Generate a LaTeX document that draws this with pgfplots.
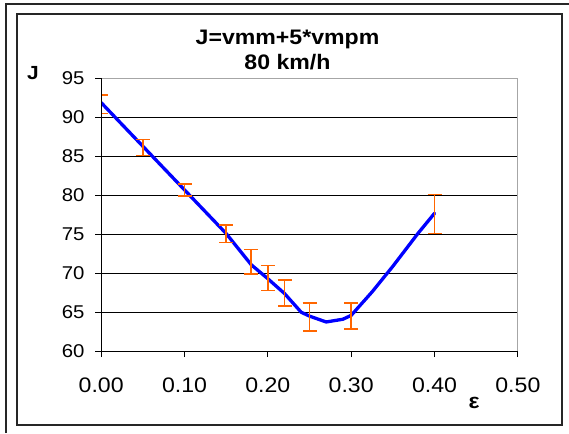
\documentclass[border=0pt]{standalone}
\usepackage{pgfplots}
\pgfplotsset{compat=1.18}
\usepackage{fontspec}
\setmainfont{Liberation Sans}[FakeStretch=1.1]
\definecolor{errorange}{RGB}{255,102,0}
\definecolor{lineblue}{RGB}{0,0,255}
\begin{document}
\begin{tikzpicture}[x=1pt,y=1pt]
\useasboundingbox (0,0) rectangle (569,433);
\draw[black!85, line width=1.2pt] (6,0) -- (6,429) -- (569,429);
\draw[black!85, line width=1.2pt] (17,8) rectangle (562,419);
\node[anchor=base, font=\bfseries\fontsize{21}{24}\selectfont] at (287.5,388) {J=vmm+5*vmpm};
\node[anchor=base, font=\bfseries\fontsize{21}{24}\selectfont] at (287.5,363) {80 km/h};
\node[anchor=base, font=\bfseries\fontsize{19}{22}\selectfont] at (33,353) {J};
\node[anchor=base, font=\bfseries\fontsize{21}{24}\selectfont] at (474,25) {ε};
\begin{axis}[
  at={(121.4,105)}, anchor=south west,
  scale only axis, width=416.7pt, height=272.7pt,
  xmin=0, xmax=0.5, ymin=60, ymax=95,
  xtick={0,0.1,0.2,0.3,0.4,0.5},
  xticklabels={0.00,0.10,0.20,0.30,0.40,0.50},
  ytick={60,65,70,75,80,85,90,95},
  yticklabels={60,65,70,75,80,85,90,95},
  tick align=outside, tick pos=left, major tick length=6pt,
  tick style={black, line width=0.8pt},
  axis line style={gray!70, line width=1pt},
  ymajorgrids, grid style={black, line width=0.8pt},
  xticklabel style={font=\fontsize{21}{24}\selectfont, inner sep=0pt, yshift=-20pt},
  yticklabel style={font=\fontsize{18.5}{22}\selectfont, inner sep=0pt, xshift=-10.5pt},
]
\addplot[lineblue, line width=3.3pt, line join=round, line cap=round] table {
x y
0 91.9
0.05 86.3
0.10 80.7
0.15 75.1
0.18 71.1
0.20 69.3
0.22 67.4
0.24 65.0
0.25 64.5
0.27 63.75
0.29 64.1
0.30 64.6
0.325 67.6
0.35 70.9
0.38 75.1
0.40 77.7
};
\addplot[draw=none, mark=none,
  error bars/.cd, y dir=both, y explicit,
  error bar style={draw=errorange, line width=1.6pt},
  error mark options={draw=errorange, rotate=90, line width=1.6pt, mark size=7pt}]
  table[x=x, y=y, y error=e] {
x y e
0 91.7 1.17
0.05 86.15 1.03
0.10 80.68 0.79
0.15 75.08 1.13
0.18 71.47 1.59
0.20 69.4 1.59
0.22 67.46 1.69
0.25 64.4 1.8
0.30 64.5 1.69
0.40 77.6 2.5
};
\draw[black, line width=1pt] (rel axis cs:0,1) -- (rel axis cs:0,0) -- (rel axis cs:1,0);
\end{axis}
\end{tikzpicture}
\end{document}
